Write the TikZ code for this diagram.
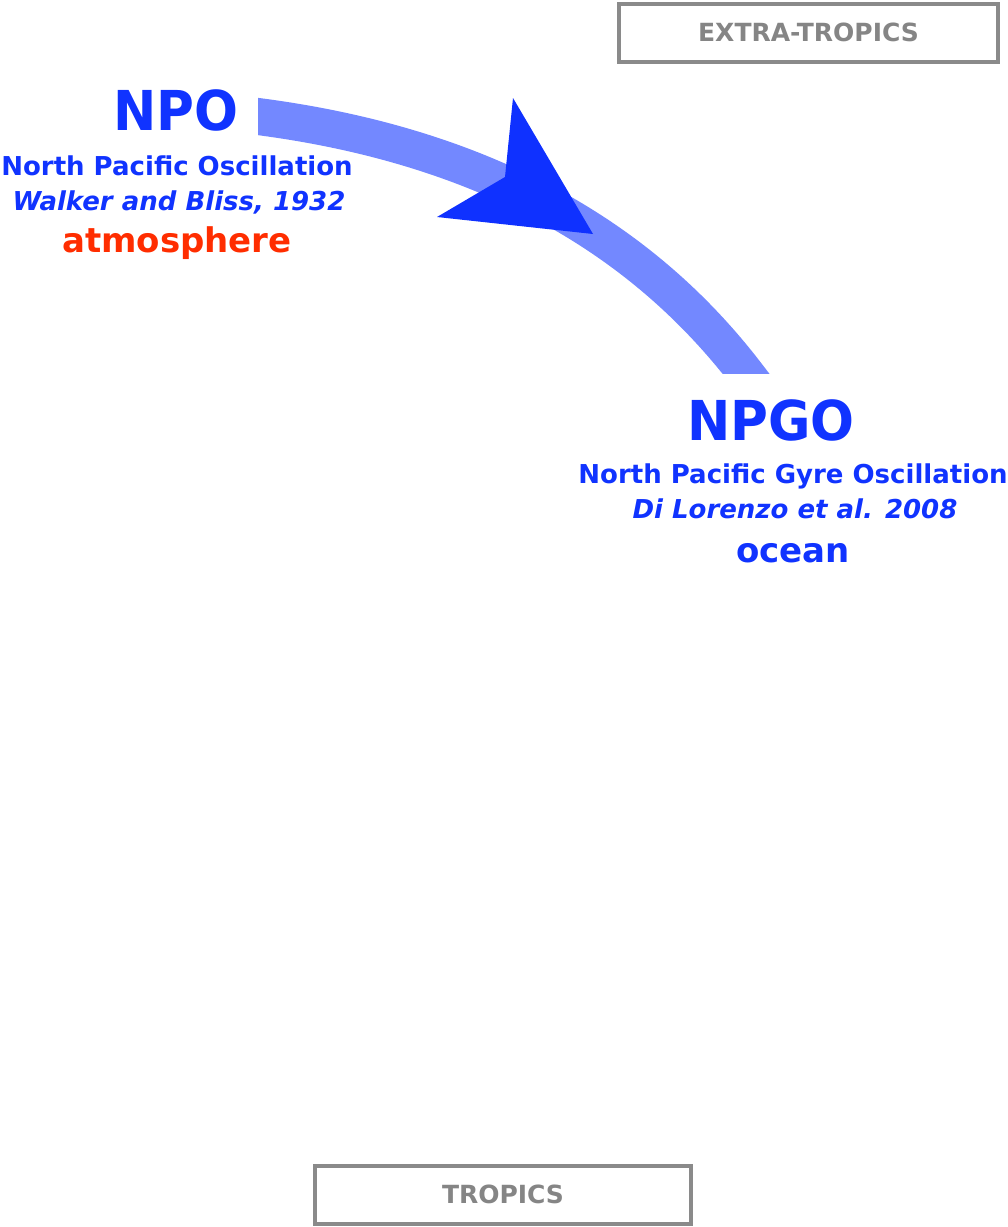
\documentclass[tikz,border=0pt]{standalone}
\usepackage{fontspec}
\newfontfamily\lucbig{DejaVu Sans Bold}[FakeStretch=0.94]
\newfontfamily\lucb{DejaVu Sans Bold}
\newfontfamily\lucbi{DejaVu Sans Bold Oblique}
\definecolor{txtblue}{HTML}{1033FF}
\definecolor{txtred}{HTML}{FF2D00}
\definecolor{bandblue}{HTML}{7388FF}
\definecolor{headblue}{HTML}{0F31FF}
\definecolor{boxgray}{HTML}{8A8A8A}
\definecolor{boxtext}{HTML}{858585}
\tikzset{
  big/.style={anchor=base, inner sep=0pt, text=txtblue, font=\lucbig\fontsize{55}{60}\selectfont},
  sub/.style={anchor=base, inner sep=0pt, text=txtblue, font=\lucb\fontsize{26}{28}\selectfont},
  ref/.style={anchor=base, inner sep=0pt, text=txtblue, font=\lucbi\fontsize{26}{28}\selectfont},
  medium/.style={anchor=base, inner sep=0pt, font=\lucb\fontsize{34}{36}\selectfont},
  region/.style={draw=boxgray, line width=4pt, text=boxtext, font=\lucb\fontsize{25}{28}\selectfont, inner sep=0pt},
  band/.style={draw=bandblue, line width=37pt, line cap=butt},
}
\begin{document}
\begin{tikzpicture}[x=1pt,y=-1pt]
\useasboundingbox (0,0) rectangle (1008,1227);
% region boxes
\node[region, minimum width=379pt, minimum height=58pt] (extra) at (808.5,32.5) {EXTRA-TROPICS};
\node[region, minimum width=376pt, minimum height=58pt] (tropics) at (503,1194.5) {TROPICS};
% NPO block
\node[big] (npo) at (176,130) {NPO};
\node[sub] (nponame) at (177,175) {North Pacific Oscillation};
\node[ref] (nporef) at (179,210) {Walker and Bliss, 1932};
\node[medium, text=txtred] (npomed) at (177,252) {atmosphere};
% NPGO block
\node[big] (npgo) at (771,440) {NPGO};
\node[sub] (npgoname) at (793,483) {North Pacific Gyre Oscillation};
\node[ref] (npgoref) at (795,518) {Di Lorenzo et al. 2008};
\node[medium, text=txtblue] (npgomed) at (793,562) {ocean};
% band
\coordinate (bpre) at (248,115.2);
\coordinate (bs) at (258,116.5);
\coordinate (be) at (745.5,373);
\coordinate (bpost) at (760.1,392);
\begin{scope}
\clip (258,0) rectangle (1008,373);
\draw[band] (bpre) -- (bs) .. controls (508,149) and (654,254.5) .. (be) -- (bpost);
\end{scope}
% arrow head
\coordinate (tip) at (593,234);
\coordinate (w1) at (513,98);
\coordinate (notch) at (505,177);
\coordinate (w2) at (437,217);
\fill[headblue] (tip) -- (w1) -- (notch) -- (w2) -- cycle;
\end{tikzpicture}
\end{document}
